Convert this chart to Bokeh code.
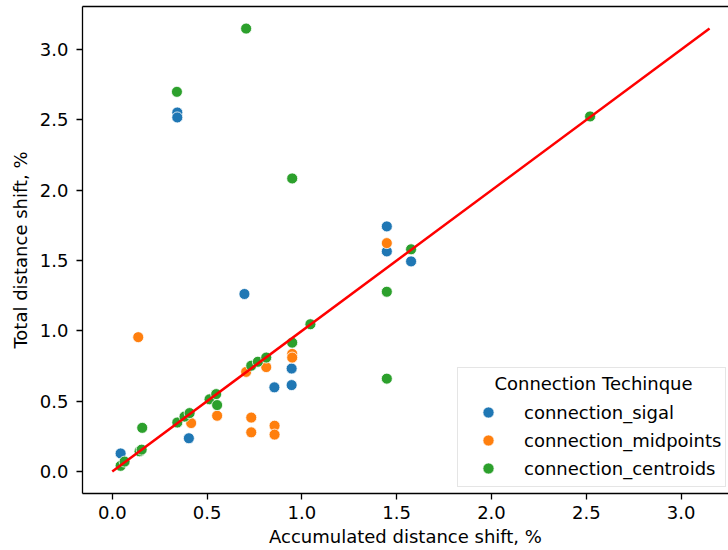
from bokeh.plotting import figure
from bokeh.models import (Legend, LegendItem, LinearAxis, FixedTicker, Label,
                          PrintfTickFormatter, Range1d, SingleIntervalTicker)
from bokeh.embed import file_html
from bokeh.resources import INLINE

# ---- data ----
sigal_x = [0.044, 0.343, 0.343, 0.404, 0.697, 0.855, 0.946, 0.946, 1.448, 1.448, 1.576]
sigal_y = [0.128, 2.553, 2.518, 0.236, 1.262, 0.598, 0.732, 0.614, 1.743, 1.565, 1.494]

midpoints_x = [0.137, 0.416, 0.553, 0.706, 0.733, 0.733, 0.812, 0.856, 0.856, 0.949, 0.949, 1.448]
midpoints_y = [0.955, 0.344, 0.396, 0.708, 0.383, 0.278, 0.742, 0.325, 0.262, 0.836, 0.810, 1.624]

centroids_x = [0.044, 0.065, 0.144, 0.155, 0.158, 0.341, 0.343, 0.381, 0.408, 0.513, 0.548,
               0.553, 0.706, 0.733, 0.768, 0.812, 0.949, 0.949, 1.045, 1.448, 1.448, 1.576, 2.520]
centroids_y = [0.040, 0.070, 0.143, 0.155, 0.310, 2.700, 0.348, 0.390, 0.415, 0.513, 0.550,
               0.472, 3.150, 0.752, 0.780, 0.810, 2.084, 0.916, 1.047, 1.278, 0.660, 1.580, 2.525]

series_names = ["connection_sigal", "connection_midpoints", "connection_centroids"]
series_colors = ["#1f77b4", "#ff7f0e", "#2ca02c"]
legend_title = "Connection Techinque"
x_label = "Accumulated distance shift, %"
y_label = "Total distance shift, %"

FONT = "DejaVu Sans"
FS = "18px"

p = figure(width=728, height=550,
           x_range=Range1d(-0.157, 3.250), y_range=Range1d(-0.157, 3.307),
           output_backend="svg", toolbar_location=None,
           min_border_left=82, min_border_right=0, min_border_top=6, min_border_bottom=57)
p.xgrid.visible = False
p.ygrid.visible = False
p.outline_line_color = None
p.background_fill_color = "white"
p.border_fill_color = "white"

renderers = []
for xs, ys, name, col in zip([sigal_x, midpoints_x, centroids_x],
                             [sigal_y, midpoints_y, centroids_y],
                             series_names, series_colors):
    r = p.scatter(xs, ys, size=11, fill_color=col, line_color="white", line_width=0.8)
    renderers.append(r)

allvals = sigal_x + sigal_y + midpoints_x + midpoints_y + centroids_x + centroids_y
m = max(allvals)
p.line([0, m], [0, m], line_color="red", line_width=2.5)

for ax in [p.xaxis[0], p.yaxis[0]]:
    ax.ticker = SingleIntervalTicker(interval=0.5)
    ax.formatter = PrintfTickFormatter(format="%.1f")
    ax.axis_line_color = "black"
    ax.axis_line_width = 1.3
    ax.major_tick_out = 6
    ax.major_tick_in = 0
    ax.minor_tick_out = 0
    ax.minor_tick_in = 0
    ax.major_tick_line_color = "black"
    ax.major_tick_line_width = 1.3
    ax.major_label_text_font = FONT
    ax.major_label_text_font_size = FS
    ax.major_label_text_color = "black"
    ax.axis_label_text_font = FONT
    ax.axis_label_text_font_size = FS
    ax.axis_label_text_font_style = "normal"
    ax.axis_label_text_color = "black"

p.xaxis[0].axis_label = x_label
p.yaxis[0].axis_label = y_label
p.xaxis[0].major_label_standoff = 6
p.yaxis[0].major_label_standoff = 8
p.xaxis[0].axis_label_standoff = 4
p.yaxis[0].axis_label_standoff = 6

top = LinearAxis(ticker=FixedTicker(ticks=[]), major_tick_out=0, major_tick_in=0,
                 minor_tick_out=0, minor_tick_in=0, major_label_standoff=0,
                 axis_line_color="black", axis_line_width=1.3)
p.add_layout(top, "above")

legend = Legend(
    items=[LegendItem(label=n, renderers=[r]) for n, r in zip(series_names, renderers)],
    location=(375, 6), title=" ",
    border_line_color="#cccccc", border_line_width=1,
    background_fill_color=None,
    padding=4, spacing=0, margin=0, glyph_width=52, glyph_height=28,
    label_standoff=10, label_height=28,
    label_text_font=FONT, label_text_font_size=FS, label_text_color="black",
    title_text_font=FONT, title_text_font_size=FS, title_text_font_style="normal",
    title_text_color="black", title_standoff=5,
)
p.add_layout(legend)

# centred legend title (matplotlib style)
title_lbl = Label(x=511, y=121, x_units="screen", y_units="screen", text=legend_title,
                  text_align="center", text_baseline="top", text_font=FONT,
                  text_font_size=FS, text_color="black", level="overlay")
p.add_layout(title_lbl)

open("out.html", "w").write(file_html(p, INLINE))
